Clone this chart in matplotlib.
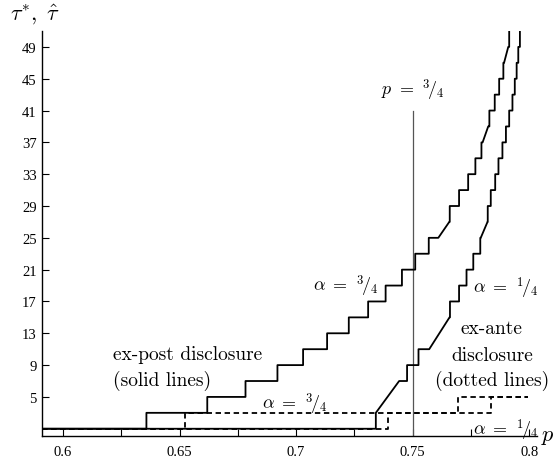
import matplotlib
matplotlib.use("Agg")
import matplotlib.pyplot as plt

plt.rcParams['mathtext.fontset'] = 'cm'

# range of p shown on the axis
p_min = 0.5908
p_max = 0.8032

# every rise of a staircase: p where it starts, p where it ends
# (same value -> vertical jump, different -> sloped piece), new tau level

# ex-post disclosure, alpha = 3/4 (solid)
post_hi_from = [0.6358, 0.6619, 0.6783, 0.6920, 0.7030, 0.7133, 0.7226, 0.7309,
                0.7384, 0.7454, 0.7511, 0.7569, 0.7610, 0.7659, 0.7699, 0.7738,
                0.7769, 0.7795, 0.7800, 0.7829, 0.7852, 0.7871, 0.7889, 0.7892,
                0.7914]
post_hi_to = [0.6358, 0.6619, 0.6783, 0.6920, 0.7030, 0.7133, 0.7226, 0.7309,
              0.7384, 0.7454, 0.7511, 0.7569, 0.7657, 0.7659, 0.7699, 0.7738,
              0.7769, 0.7795, 0.7824, 0.7829, 0.7852, 0.7871, 0.7889, 0.7910,
              0.7914]
post_hi_tau = [3, 5, 7, 9, 11, 13, 15, 17, 19, 21, 23, 25, 27, 29, 31, 33,
               35, 37, 39, 41, 43, 45, 47, 49, 51]

# ex-post disclosure, alpha = 1/4 (solid)
post_lo_from = [0.7342, 0.7342, 0.7476, 0.7525, 0.7571, 0.7660, 0.7699, 0.7731,
                0.7760, 0.7790, 0.7792, 0.7822, 0.7835, 0.7854, 0.7868, 0.7885,
                0.7900, 0.7914, 0.7928, 0.7938, 0.7946, 0.7953, 0.7960]
post_lo_to = [0.7342, 0.7442, 0.7476, 0.7525, 0.7658, 0.7660, 0.7699, 0.7731,
              0.7760, 0.7790, 0.7821, 0.7822, 0.7835, 0.7854, 0.7868, 0.7885,
              0.7900, 0.7914, 0.7928, 0.7938, 0.7946, 0.7953, 0.7960]
post_lo_tau = [3, 7, 9, 11, 15, 17, 19, 21, 23, 25, 27, 29, 31, 33, 35, 37,
               39, 41, 43, 45, 47, 49, 51]

# ex-ante disclosure (dashed)
ante_hi_from = [0.6523, 0.7696]
ante_hi_tau = [3, 5]
ante_lo_from = [0.7395, 0.7835]
ante_lo_tau = [3, 5]
ante_end = 0.7994

# reference line p = 3/4
p_ref = 0.75
p_ref_top = 41

y_ticks = [5, 9, 13, 17, 21, 25, 29, 33, 37, 41, 45, 49]
x_ticks = [0.6, 0.65, 0.7, 0.75, 0.8]
x_labels = ['0.6', '0.65', '0.7', '0.75', '0.8']
x_minor = [0.625, 0.675, 0.725, 0.775]


def staircase(p_from, p_to, tau, p_end=None):
    xs = [p_min]
    ys = [1]
    for a, b, t in zip(p_from, p_to, tau):
        xs += [a, b]
        ys += [ys[-1], t]
    if p_end is not None:
        xs.append(p_end)
        ys.append(ys[-1])
    return xs, ys


fig = plt.figure(figsize=(5.58, 4.64), dpi=100)
ax = fig.add_axes([41.5 / 558, 26.7 / 464, 495.2 / 558, 405.3 / 464])

ax.plot([p_ref, p_ref], [0, p_ref_top], color='#555555', lw=0.9)

x, y = staircase(post_hi_from, post_hi_to, post_hi_tau)
ax.plot(x, y, color='k', lw=1.3)
x, y = staircase(post_lo_from, post_lo_to, post_lo_tau)
ax.plot(x, y, color='k', lw=1.3)
x, y = staircase(ante_hi_from, ante_hi_from, ante_hi_tau, ante_end)
ax.plot(x, y, color='k', lw=1.3, dashes=(3, 2))
x, y = staircase(ante_lo_from, ante_lo_from, ante_lo_tau, ante_end)
ax.plot(x, y, color='k', lw=1.3, dashes=(3, 2))

ax.set_xlim(p_min, p_max)
ax.set_ylim(0.05, 51)

for s in ['top', 'right']:
    ax.spines[s].set_visible(False)
for s in ['left', 'bottom']:
    ax.spines[s].set_linewidth(1.0)

ax.set_yticks(y_ticks)
ax.set_xticks(x_ticks)
ax.set_xticklabels(x_labels)
ax.set_xticks(x_minor, minor=True)
ax.tick_params(axis='both', which='both', direction='in', length=5, width=0.8,
               labelsize=10.5)
ax.tick_params(axis='y', pad=3.5)
ax.tick_params(axis='x', pad=6)
for lab in ax.get_xticklabels() + ax.get_yticklabels():
    lab.set_fontfamily('Liberation Serif')

txt = dict(fontfamily='cmr10', fontsize=14, va='baseline')
ax.text(0.6214, 9.78, 'ex-post disclosure', ha='left', **txt)
ax.text(0.6214, 6.51, '(solid lines)', ha='left', **txt)
ax.text(0.7840, 13.05, 'ex-ante', ha='center', **txt)
ax.text(0.7840, 9.66, 'disclosure', ha='center', **txt)
ax.text(0.7840, 6.51, '(dotted lines)', ha='center', **txt)

lab = dict(fontsize=13, va='baseline')
ax.text(0.7351, 18.36, r'$\alpha\ =\ {}^{3}\!/_{4}$', ha='right', **lab)
ax.text(0.6852, 3.6, r'$\alpha\ =\ {}^{3}\!/_{4}$', ha='left', **lab)
ax.text(0.7759, 18.16, r'$\alpha\ =\ {}^{1}\!/_{4}$', ha='left', **lab)
ax.text(0.7759, 0.23, r'$\alpha\ =\ {}^{1}\!/_{4}$', ha='left', **lab)
ax.text(0.75, 43.07, r'$p\ =\ {}^{3}\!/_{4}$', ha='center', **lab)

fig.text(10 / 558, 1 - 21 / 464, r'$\tau^{*},\ \hat{\tau}$', fontsize=16,
         ha='left', va='baseline')
fig.text(541 / 558, 23 / 464, r'$p$', fontsize=16, ha='left', va='baseline')

fig.savefig('out.png', dpi=100)
